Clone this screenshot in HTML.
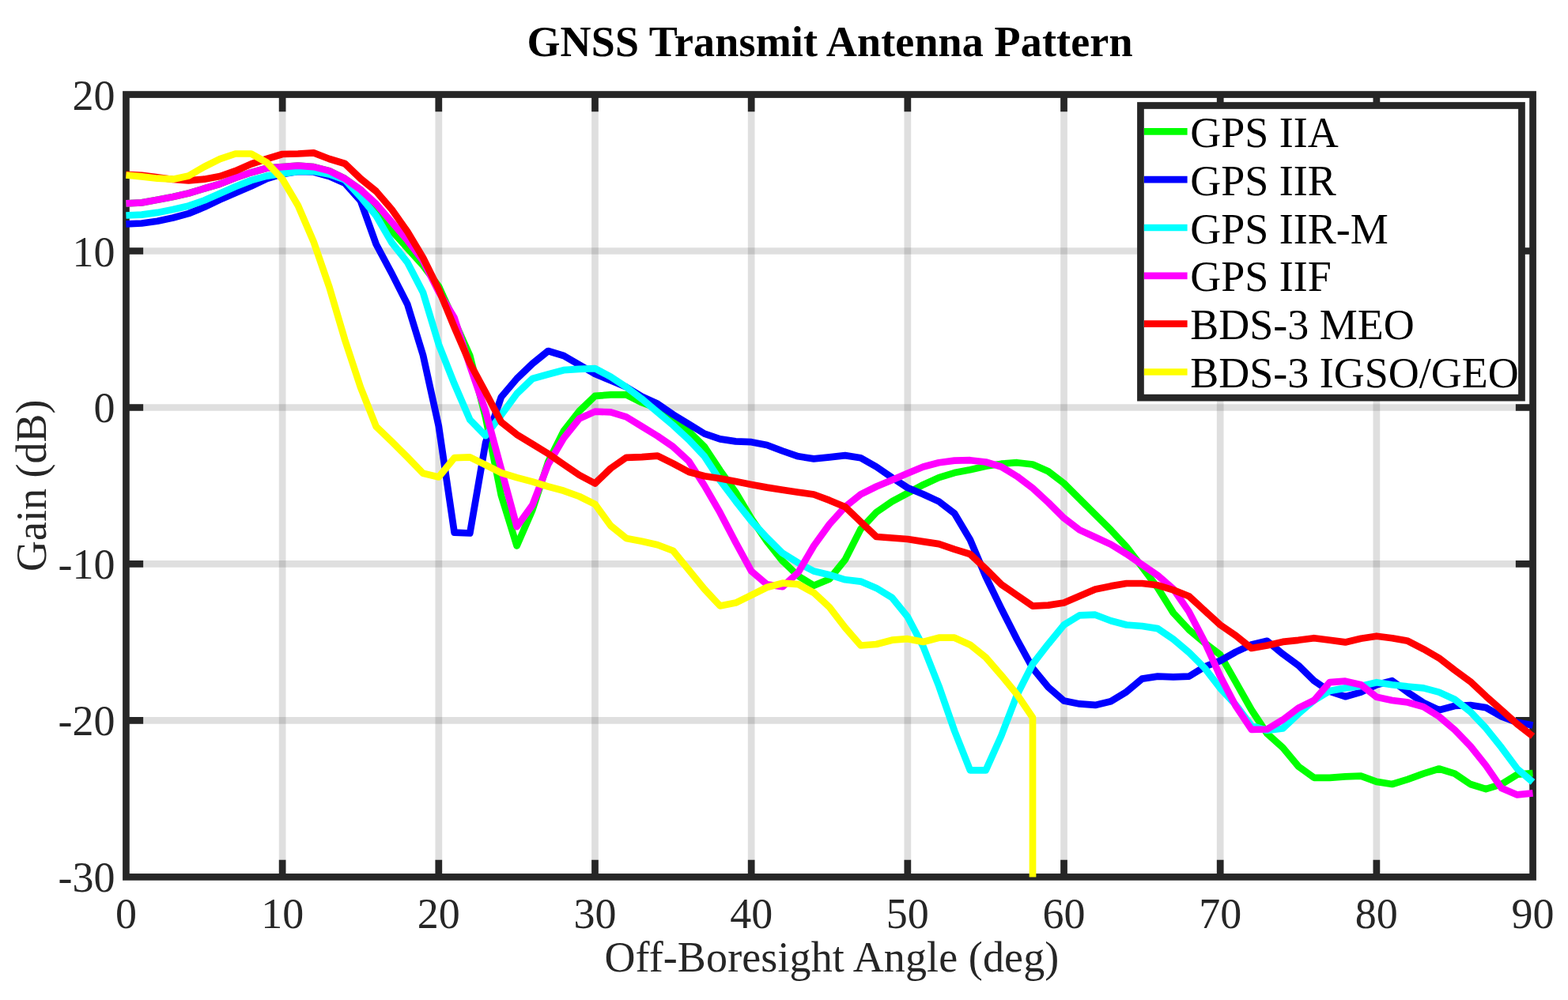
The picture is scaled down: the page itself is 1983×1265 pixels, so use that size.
<!DOCTYPE html>
<html><head><meta charset="utf-8"><title>GNSS Transmit Antenna Pattern</title><style>html,body{margin:0;padding:0;background:#fff;overflow:hidden}svg{display:block}</style></head><body>
<svg width="1983" height="1265" viewBox="0 0 1983 1265">
<rect x="0" y="0" width="1983" height="1265" fill="#ffffff"/>
<path d="M357.13 119.55V1109.40M554.81 119.55V1109.40M752.48 119.55V1109.40M950.16 119.55V1109.40M1147.84 119.55V1109.40M1345.52 119.55V1109.40M1543.19 119.55V1109.40M1740.87 119.55V1109.40" stroke="rgb(38,38,38)" stroke-opacity="0.15" stroke-width="8.7" fill="none"/>
<path d="M159.45 317.52H1938.55M159.45 515.49H1938.55M159.45 713.46H1938.55M159.45 911.43H1938.55" stroke="rgb(38,38,38)" stroke-opacity="0.15" stroke-width="8.7" fill="none"/>
<rect x="159.45" y="119.55" width="1779.10" height="989.85" fill="none" stroke="#262626" stroke-width="8.7"/>
<path d="M357.13 1109.40V1087.70M357.13 119.55V141.25M554.81 1109.40V1087.70M554.81 119.55V141.25M752.48 1109.40V1087.70M752.48 119.55V141.25M950.16 1109.40V1087.70M950.16 119.55V141.25M1147.84 1109.40V1087.70M1147.84 119.55V141.25M1345.52 1109.40V1087.70M1345.52 119.55V141.25M1543.19 1109.40V1087.70M1543.19 119.55V141.25M1740.87 1109.40V1087.70M1740.87 119.55V141.25M159.45 317.52H181.15M1938.55 317.52H1916.85M159.45 515.49H181.15M1938.55 515.49H1916.85M159.45 713.46H181.15M1938.55 713.46H1916.85M159.45 911.43H181.15M1938.55 911.43H1916.85" stroke="#262626" stroke-width="8.7" fill="none"/>
<path d="M159.4 257.3L179.2 256.4L199.0 252.8L218.8 249.0L238.5 244.5L258.3 238.5L278.1 232.8L297.8 224.9L317.6 218.2L337.4 212.7L357.1 211.1L376.9 209.6L396.7 211.1L416.4 216.1L436.2 226.0L456.0 240.0L475.7 266.0L495.5 292.0L515.3 314.0L535.0 335.8L554.8 362.0L574.6 406.0L594.3 450.0L614.1 528.0L633.9 626.8L653.6 690.4L673.4 645.0L693.2 584.5L712.9 545.1L732.7 520.0L752.5 500.9L772.3 499.4L792.0 499.4L811.8 509.3L831.6 516.8L851.3 528.9L871.1 545.6L890.9 565.2L910.6 595.0L930.4 622.7L950.2 656.0L969.9 684.7L989.7 709.7L1009.5 728.6L1029.2 740.8L1049.0 732.5L1068.8 708.0L1088.5 669.2L1108.3 648.0L1128.1 634.4L1147.8 623.8L1167.6 613.2L1187.4 604.1L1207.1 598.1L1226.9 594.3L1246.7 589.8L1266.4 586.7L1286.2 585.2L1306.0 587.5L1325.7 596.3L1345.5 611.4L1365.3 631.1L1385.1 650.8L1404.8 670.4L1424.6 691.6L1444.4 717.3L1464.1 743.6L1483.9 775.4L1503.7 796.6L1523.4 813.2L1543.2 828.3L1563.0 863.1L1582.7 898.0L1602.5 928.0L1622.3 945.8L1642.0 969.4L1661.8 983.8L1681.6 983.8L1701.3 982.3L1721.1 981.7L1740.9 988.9L1760.6 992.0L1780.4 985.9L1800.2 978.6L1819.9 972.5L1839.7 978.6L1859.5 992.0L1879.2 998.2L1899.0 992.0L1918.8 979.7L1938.5 978.1" stroke="#00ff00" stroke-width="8.7" fill="none" stroke-linejoin="round" stroke-linecap="butt"/>
<path d="M159.4 283.4L179.2 282.5L199.0 279.8L218.8 275.5L238.5 270.1L258.3 262.0L278.1 252.6L297.8 243.9L317.6 235.5L337.4 226.0L357.1 220.2L376.9 217.0L396.7 217.5L416.4 223.1L436.2 231.8L456.0 254.0L475.7 309.0L495.5 346.0L515.3 385.0L535.0 449.3L554.8 539.0L574.6 673.7L594.3 674.5L614.1 560.0L633.9 502.2L653.6 479.0L673.4 460.0L693.2 444.0L712.9 450.0L732.7 461.5L752.5 473.0L772.3 481.3L792.0 489.6L811.8 501.7L831.6 510.8L851.3 524.4L871.1 536.5L890.9 548.6L910.6 555.4L930.4 558.4L950.2 559.2L969.9 563.0L989.7 570.5L1009.5 577.3L1029.2 580.4L1049.0 578.4L1068.8 576.1L1088.5 579.2L1108.3 590.5L1128.1 604.1L1147.8 617.0L1167.6 625.3L1187.4 634.4L1207.1 649.5L1226.9 682.8L1246.7 729.5L1266.4 770.0L1286.2 809.0L1306.0 845.2L1325.7 869.2L1345.5 886.6L1365.3 890.4L1385.1 891.9L1404.8 887.3L1424.6 875.2L1444.4 858.6L1464.1 855.6L1483.9 856.3L1503.7 855.6L1523.4 843.5L1543.2 835.9L1563.0 824.6L1582.7 815.5L1602.5 810.8L1622.3 827.3L1642.0 841.7L1661.8 861.2L1681.6 874.6L1701.3 881.2L1721.1 875.6L1740.9 866.3L1760.6 861.2L1780.4 875.8L1800.2 888.9L1819.9 898.2L1839.7 893.0L1859.5 892.0L1879.2 895.1L1899.0 906.4L1918.8 913.9L1938.5 917.5" stroke="#0000ff" stroke-width="8.7" fill="none" stroke-linejoin="round" stroke-linecap="butt"/>
<path d="M159.4 272.5L179.2 271.6L199.0 268.9L218.8 265.1L238.5 260.4L258.3 253.5L278.1 244.7L297.8 236.0L317.6 228.1L337.4 222.6L357.1 219.6L376.9 217.0L396.7 216.8L416.4 220.5L436.2 227.5L456.0 249.0L475.7 273.0L495.5 307.0L515.3 332.0L535.0 370.0L554.8 435.6L574.6 485.6L594.3 531.0L614.1 551.2L633.9 524.9L653.6 498.0L673.4 479.0L693.2 473.5L712.9 468.2L732.7 466.8L752.5 466.1L772.3 476.7L792.0 489.6L811.8 504.7L831.6 521.4L851.3 538.0L871.1 556.2L890.9 577.3L910.6 607.6L930.4 634.0L950.2 659.0L969.9 680.2L989.7 699.8L1009.5 712.0L1029.2 722.5L1049.0 727.2L1068.8 733.3L1088.5 735.6L1108.3 743.9L1128.1 756.0L1147.8 780.2L1167.6 818.0L1187.4 868.0L1207.1 924.5L1226.9 974.4L1246.7 974.4L1266.4 930.5L1286.2 879.0L1306.0 840.0L1325.7 814.7L1345.5 790.5L1365.3 778.4L1385.1 777.7L1404.8 785.2L1424.6 790.5L1444.4 792.0L1464.1 795.1L1483.9 808.7L1503.7 825.3L1523.4 845.0L1543.2 870.7L1563.0 891.9L1582.7 918.0L1602.5 924.0L1622.3 921.5L1642.0 903.0L1661.8 886.0L1681.6 874.0L1701.3 870.4L1721.1 867.9L1740.9 863.2L1760.6 866.3L1780.4 868.5L1800.2 870.4L1819.9 875.6L1839.7 884.8L1859.5 900.2L1879.2 921.1L1899.0 945.8L1918.8 972.5L1938.5 989.4" stroke="#00ffff" stroke-width="8.7" fill="none" stroke-linejoin="round" stroke-linecap="butt"/>
<path d="M159.4 257.3L179.2 256.4L199.0 252.8L218.8 249.0L238.5 244.5L258.3 238.5L278.1 232.8L297.8 224.9L317.6 218.2L337.4 212.7L357.1 211.1L376.9 209.6L396.7 211.1L416.4 216.1L436.2 226.0L456.0 240.0L475.7 258.0L495.5 281.0L515.3 304.0L535.0 329.8L554.8 369.0L574.6 402.0L594.3 463.0L614.1 520.0L633.9 593.5L653.6 666.2L673.4 638.9L693.2 587.5L712.9 554.2L732.7 529.5L752.5 520.6L772.3 521.4L792.0 527.4L811.8 539.5L831.6 551.6L851.3 565.2L871.1 583.4L890.9 614.4L910.6 648.4L930.4 686.2L950.2 722.5L969.9 739.2L989.7 742.2L1009.5 724.1L1029.2 690.5L1049.0 663.1L1068.8 641.2L1088.5 625.3L1108.3 615.5L1128.1 607.2L1147.8 598.8L1167.6 590.5L1187.4 585.2L1207.1 582.6L1226.9 582.2L1246.7 584.5L1266.4 590.5L1286.2 602.6L1306.0 617.5L1325.7 635.6L1345.5 655.3L1365.3 670.4L1385.1 679.5L1404.8 688.6L1424.6 700.7L1444.4 714.3L1464.1 727.9L1483.9 745.0L1503.7 773.9L1523.4 811.7L1543.2 855.6L1563.0 893.4L1582.7 922.8L1602.5 922.5L1622.3 910.6L1642.0 895.6L1661.8 886.0L1681.6 863.2L1701.3 861.7L1721.1 866.3L1740.9 881.7L1760.6 886.0L1780.4 888.5L1800.2 894.1L1819.9 906.4L1839.7 923.2L1859.5 943.7L1879.2 968.4L1899.0 997.1L1918.8 1005.4L1938.5 1003.3" stroke="#ff00ff" stroke-width="8.7" fill="none" stroke-linejoin="round" stroke-linecap="butt"/>
<path d="M159.4 220.9L179.2 221.8L199.0 224.2L218.8 227.0L238.5 228.3L258.3 226.7L278.1 223.0L297.8 216.2L317.6 207.5L337.4 201.0L357.1 195.0L376.9 194.5L396.7 193.4L416.4 201.0L436.2 207.0L456.0 226.0L475.7 242.0L495.5 265.0L515.3 293.0L535.0 326.0L554.8 366.0L574.6 414.0L594.3 459.5L614.1 496.2L633.9 534.0L653.6 549.7L673.4 561.8L693.2 573.9L712.9 587.5L732.7 601.0L752.5 611.5L772.3 592.5L792.0 578.8L811.8 578.1L831.6 576.6L851.3 586.4L871.1 597.0L890.9 602.3L910.6 605.3L930.4 609.1L950.2 612.9L969.9 616.6L989.7 619.7L1009.5 622.7L1029.2 625.5L1049.0 632.9L1068.8 641.2L1088.5 660.1L1108.3 679.0L1128.1 680.5L1147.8 682.0L1167.6 685.1L1187.4 688.1L1207.1 694.9L1226.9 701.0L1246.7 719.7L1266.4 739.3L1286.2 753.0L1306.0 766.6L1325.7 765.6L1345.5 762.5L1365.3 754.0L1385.1 745.5L1404.8 741.4L1424.6 738.0L1444.4 738.0L1464.1 740.3L1483.9 746.4L1503.7 754.2L1523.4 772.4L1543.2 790.5L1563.0 804.1L1582.7 820.0L1602.5 816.5L1622.3 811.9L1642.0 809.8L1661.8 807.2L1681.6 809.8L1701.3 812.4L1721.1 807.7L1740.9 804.7L1760.6 807.2L1780.4 810.8L1800.2 821.1L1819.9 832.4L1839.7 847.8L1859.5 862.2L1879.2 880.7L1899.0 898.2L1918.8 916.0L1938.5 931.4" stroke="#ff0000" stroke-width="8.7" fill="none" stroke-linejoin="round" stroke-linecap="butt"/>
<path d="M159.4 221.5L179.2 223.4L199.0 225.7L218.8 226.7L238.5 222.4L258.3 211.0L278.1 201.2L297.8 194.5L317.6 194.5L337.4 205.6L357.1 226.5L376.9 260.0L396.7 306.0L416.4 363.0L436.2 430.0L456.0 490.0L475.7 539.6L495.5 558.7L515.3 578.4L535.0 598.8L554.8 603.4L574.6 579.2L594.3 578.4L614.1 588.2L633.9 598.1L653.6 604.1L673.4 609.4L693.2 615.5L712.9 620.8L732.7 628.0L752.5 637.8L772.3 665.0L792.0 680.9L811.8 684.7L831.6 689.3L851.3 696.8L871.1 721.0L890.9 745.2L910.6 766.4L930.4 762.6L950.2 752.8L969.9 743.0L989.7 737.7L1009.5 739.2L1029.2 749.8L1049.0 768.1L1068.8 793.8L1088.5 816.5L1108.3 815.0L1128.1 809.7L1147.8 808.2L1167.6 812.0L1187.4 806.7L1207.1 806.7L1226.9 815.7L1246.7 831.6L1266.4 854.3L1286.2 878.5L1306.0 907.8L1306.0 1109.4" stroke="#ffff00" stroke-width="8.7" fill="none" stroke-linejoin="round" stroke-linecap="butt"/>
<g font-family="'Liberation Serif', 'Times New Roman', serif" font-size="54" fill="#262626"><text x="159.45" y="1173.5" text-anchor="middle">0</text><text x="357.13" y="1173.5" text-anchor="middle">10</text><text x="554.81" y="1173.5" text-anchor="middle">20</text><text x="752.48" y="1173.5" text-anchor="middle">30</text><text x="950.16" y="1173.5" text-anchor="middle">40</text><text x="1147.84" y="1173.5" text-anchor="middle">50</text><text x="1345.52" y="1173.5" text-anchor="middle">60</text><text x="1543.19" y="1173.5" text-anchor="middle">70</text><text x="1740.87" y="1173.5" text-anchor="middle">80</text><text x="1938.55" y="1173.5" text-anchor="middle">90</text><text x="145.4" y="138.55" text-anchor="end">20</text><text x="145.4" y="336.52" text-anchor="end">10</text><text x="145.4" y="534.49" text-anchor="end">0</text><text x="145.4" y="732.46" text-anchor="end">-10</text><text x="145.4" y="930.43" text-anchor="end">-20</text><text x="145.4" y="1128.40" text-anchor="end">-30</text></g>
<text font-family="'Liberation Serif', 'Times New Roman', serif" font-size="54" fill="#262626" x="1051.85" y="1228.8" text-anchor="middle" textLength="574.9" lengthAdjust="spacing">Off-Boresight Angle (deg)</text>
<text font-family="'Liberation Serif', 'Times New Roman', serif" font-size="54" fill="#262626" transform="translate(57.6 614.3) rotate(-90)" x="0" y="0" text-anchor="middle">Gain (dB)</text>
<text font-family="'Liberation Serif', 'Times New Roman', serif" font-size="54" font-weight="bold" fill="#000000" x="1049.45" y="70.9" text-anchor="middle" textLength="766.1" lengthAdjust="spacing">GNSS Transmit Antenna Pattern</text>
<rect x="1442.45" y="133.5" width="482.00" height="369.65" fill="#ffffff" stroke="#262626" stroke-width="8.7"/>
<path d="M1446.9 166.30H1501.6" stroke="#00ff00" stroke-width="8.7" fill="none"/>
<text font-family="'Liberation Serif', 'Times New Roman', serif" font-size="54" fill="#000000" x="1505.3" y="185.80">GPS IIA</text>
<path d="M1446.9 227.14H1501.6" stroke="#0000ff" stroke-width="8.7" fill="none"/>
<text font-family="'Liberation Serif', 'Times New Roman', serif" font-size="54" fill="#000000" x="1505.3" y="246.66">GPS IIR</text>
<path d="M1446.9 287.98H1501.6" stroke="#00ffff" stroke-width="8.7" fill="none"/>
<text font-family="'Liberation Serif', 'Times New Roman', serif" font-size="54" fill="#000000" x="1505.3" y="307.52">GPS IIR-M</text>
<path d="M1446.9 348.82H1501.6" stroke="#ff00ff" stroke-width="8.7" fill="none"/>
<text font-family="'Liberation Serif', 'Times New Roman', serif" font-size="54" fill="#000000" x="1505.3" y="368.38">GPS IIF</text>
<path d="M1446.9 409.66H1501.6" stroke="#ff0000" stroke-width="8.7" fill="none"/>
<text font-family="'Liberation Serif', 'Times New Roman', serif" font-size="54" fill="#000000" x="1505.3" y="429.24">BDS-3 MEO</text>
<path d="M1446.9 470.50H1501.6" stroke="#ffff00" stroke-width="8.7" fill="none"/>
<text font-family="'Liberation Serif', 'Times New Roman', serif" font-size="54" fill="#000000" x="1505.3" y="490.10">BDS-3 IGSO/GEO</text>
</svg>
</body></html>
